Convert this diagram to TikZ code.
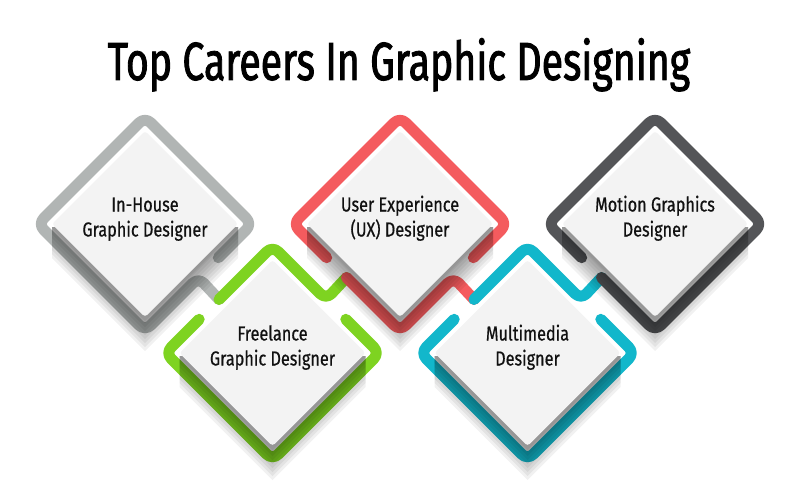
\documentclass[tikz,border=0pt]{standalone}
\usepackage{fontspec}
\setmainfont{Fira Sans}
\newfontfamily\titlefont[FakeStretch=0.73,FakeBold=1.6]{Fira Sans}
\newfontfamily\boxfont[FakeStretch=0.8,FakeBold=0.6]{Fira Sans}
\definecolor{cgray}{HTML}{B1B5B4}
\definecolor{cgreen}{HTML}{7ED321}
\definecolor{cred}{HTML}{F45B5E}
\definecolor{ccyan}{HTML}{12B7CB}
\definecolor{cdark}{HTML}{545558}
\definecolor{cinner}{HTML}{F3F3F3}
\definecolor{ctext}{HTML}{111111}
\newcommand\dshadow[2]{%
  \foreach \hh in {4,6,10,14,18,22,26,30,34}{%
    \fill[black,opacity=0.055] (#1-93,#2+3) -- (#1-93,#2+\hh) -- (#1,#2+93+\hh) -- (#1+93,#2+\hh) -- (#1+93,#2+3) -- cycle;
  }%
}
\newcommand\dinner[2]{%
  \fill[cinner,rounded corners=3pt] (#1,#2-93) -- (#1+93,#2) -- (#1,#2+93) -- (#1-93,#2) -- cycle;
}
\begin{document}
\begin{tikzpicture}[x=1pt,y=-1pt,
  outline/.style={line width=11pt,line cap=round,line join=round,rounded corners=8pt},
  boxtext/.style={anchor=base,inner sep=0pt,text=ctext,font=\boxfont\fontsize{20.3}{24}\selectfont},
  titletext/.style={anchor=base,inner sep=0pt,text=black,font=\titlefont\fontsize{53.7}{60}\selectfont}]
\useasboundingbox (0,0) rectangle (800,500);
\fill[white] (0,0) rectangle (800,500);

% title
\node[titletext] (title) at (399,80) {Top Careers In Graphic Designing};

% outlines
\draw[outline,cgray] (218.3,257.7) -- (252,224) -- (145,117) -- (38,224) -- (145,331) -- (198.5,277.5) -- (219,299.5);

\draw[outline,cgreen] (219,299.5) -- (272.5,246) -- (326,299.5) -- (346.5,277.5);
\draw[outline,cgreen] (345.8,319.3) -- (379.5,353) -- (272.5,460) -- (165.5,353) -- (199.2,319.3);

\draw[outline,cred] (473.3,257.7) -- (507,224) -- (400,117) -- (293,224) -- (326.7,257.7);
\draw[outline,cred] (346.5,277.5) -- (400,331) -- (453.5,277.5) -- (474,299.5);

\draw[outline,ccyan] (474,299.5) -- (527.5,246) -- (581,299.5) -- (601.5,277.5);
\draw[outline,ccyan] (600.8,319.3) -- (634.5,353) -- (527.5,460) -- (420.5,353) -- (454.2,319.3);

\draw[outline,cdark] (581.7,257.7) -- (548,224) -- (655,117) -- (762,224) -- (655,331) -- (601.5,277.5);

% shadows
\dshadow{145}{224}
\dshadow{272.5}{353}
\dshadow{400}{224}
\dshadow{527.5}{353}
\dshadow{655}{224}

% inner diamonds
\dinner{145}{224}
\dinner{272.5}{353}
\dinner{400}{224}
\dinner{527.5}{353}
\dinner{655}{224}

% texts
\node[boxtext] (t0a) at (145,211.5) {In-House};
\node[boxtext] (t0b) at (145,236.5) {Graphic Designer};
\node[boxtext] (t1a) at (272.5,340.5) {Freelance};
\node[boxtext] (t1b) at (272.5,365.5) {Graphic Designer};
\node[boxtext] (t2a) at (400,211.5) {User Experience};
\node[boxtext] (t2b) at (400,236.5) {(UX) Designer};
\node[boxtext] (t3a) at (527.5,340.5) {Multimedia};
\node[boxtext] (t3b) at (527.5,365.5) {Designer};
\node[boxtext] (t4a) at (655,211.5) {Motion Graphics};
\node[boxtext] (t4b) at (655,236.5) {Designer};
\end{tikzpicture}
\end{document}
